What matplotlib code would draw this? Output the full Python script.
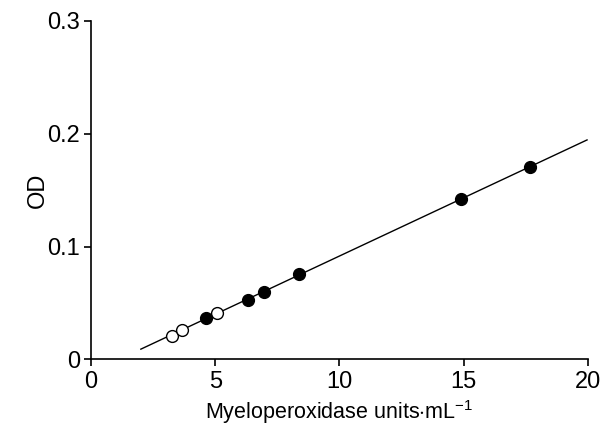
import matplotlib
matplotlib.use('Agg')
import matplotlib.pyplot as plt
import numpy as np

plt.rcParams['font.family'] = ['Liberation Sans', 'DejaVu Sans']
plt.rcParams['mathtext.fontset'] = 'custom'
plt.rcParams['mathtext.rm'] = 'Liberation Sans'
plt.rcParams['mathtext.it'] = 'Liberation Sans'

# standards (filled) and samples (open)
filled_x = [4.63, 6.33, 6.96, 8.39, 14.87, 17.65]
filled_y = [0.0363, 0.0531, 0.0596, 0.0753, 0.1418, 0.1708]
open_x = [3.25, 3.68, 5.07]
open_y = [0.0206, 0.0257, 0.0408]

# regression line
fit_slope = 0.01032
fit_intercept = -0.0116
fit_range = [2.01, 19.96]

fig = plt.figure(figsize=(6.1, 4.3), dpi=100)
ax = fig.add_axes([0.149, 0.164, 0.815, 0.788])

lx = np.array(fit_range)
ax.plot(lx, fit_slope * lx + fit_intercept, color='black', lw=1.0, zorder=1)
ax.plot(filled_x, filled_y, 'o', ms=8.5, mfc='black', mec='black', mew=1.0, zorder=3)
ax.plot(open_x, open_y, 'o', ms=8.5, mfc='white', mec='black', mew=1.0, zorder=3)

ax.set_xlim(0, 20)
ax.set_ylim(0, 0.3)
ax.set_xticks([0, 5, 10, 15, 20])
ax.set_yticks([0, 0.1, 0.2, 0.3])
ax.set_yticklabels(['0', '0.1', '0.2', '0.3'])
ax.spines['top'].set_visible(False)
ax.spines['right'].set_visible(False)
ax.spines['left'].set_linewidth(1.2)
ax.spines['bottom'].set_linewidth(1.2)
ax.tick_params(direction='out', length=5, width=1.2, labelsize=17, pad=3)

ax.set_xlabel('Myeloperoxidase units$\\cdot$mL$^{\\mathrm{-1}}$', fontsize=15.5, labelpad=4)
ax.set_ylabel('OD', fontsize=17)
ax.yaxis.set_label_coords(-0.085, 0.5)

fig.savefig('out.png', dpi=100)
